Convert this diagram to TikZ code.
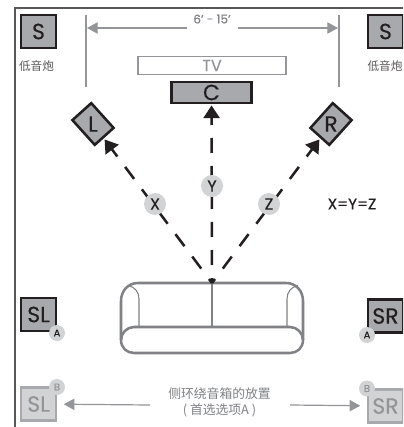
\documentclass[tikz,border=0pt]{standalone}
\usepackage{fontspec}
\setmainfont{Poppins}[FakeBold=0.25]
\newfontfamily\cjk{Noto Sans CJK SC}
\usetikzlibrary{arrows.meta}
\definecolor{spk}{HTML}{A7A9AC}
\definecolor{ink}{HTML}{231F20}
\definecolor{pale}{HTML}{D1D3D4}
\definecolor{mid}{HTML}{939598}
\definecolor{sofa}{HTML}{808285}
\tikzset{
 spkbox/.style={draw=ink,fill=spk,line width=1.9pt,text=ink,inner sep=0pt,font=\fontsize{16.5}{16.5}\selectfont,minimum width=26pt,minimum height=25pt},
 fadebox/.style={draw=spk,fill=pale,line width=1.9pt,text=mid,inner sep=0pt,font=\fontsize{16.5}{16.5}\selectfont,minimum width=26pt,minimum height=25pt},
 badge/.style={circle,fill=pale,text=ink,inner sep=0pt,minimum size=12pt,font=\fontsize{7.5}{8}\selectfont},
 fadebadge/.style={badge,text=mid},
 distbadge/.style={circle,fill=pale,text=ink,inner sep=0pt,minimum size=16.5pt,font=\fontsize{12}{12}\selectfont},
 dimline/.style={draw=mid,line width=.9pt},
 dimarrow/.style={dimline,-{Triangle[length=8pt,width=8.5pt]}},
 distarrow/.style={draw=ink,line width=1.9pt,dash pattern=on 11.25pt off 9.75pt,dash phase=7.5pt,-{Triangle[length=9.5pt,width=12pt]},shorten >=1pt},
 sofaline/.style={draw=sofa,line width=1.9pt},
 cjklabel/.style={text=ink!75,font=\cjk\fontsize{8.7}{10}\selectfont,inner sep=0pt},
 caption/.style={text=sofa,font=\cjk\fontsize{9.6}{12}\selectfont,inner sep=0pt,align=center}
}
\begin{document}
\begin{tikzpicture}[x=.75pt,y=-.75pt]
\useasboundingbox (0,0) rectangle (403,427);
\clip (0,0) rectangle (403,427);
\fill[white] (0,0) rectangle (403,427);
% frame
\draw[draw=ink!75,line width=1.1pt] (15,427) -- (15,8) -- (403,8);
% dimension
\coordinate (dl1) at (86,15); \coordinate (dl2) at (86,87);
\coordinate (dr1) at (339,15); \coordinate (dr2) at (339,87);
\coordinate (dla) at (187,28); \coordinate (dlb) at (87,28);
\coordinate (dra) at (238,28); \coordinate (drb) at (338,28);
\draw[dimline] (dl1) -- (dl2);
\draw[dimline] (dr1) -- (dr2);
\draw[dimarrow] (dla) -- (dlb);
\draw[dimarrow] (dra) -- (drb);
\node[text=sofa,font=\fontsize{9}{9}\selectfont,inner sep=0pt] (dim) at (212,19) {6' - 15'};
% TV and centre
\node[draw=mid,fill=white,line width=.9pt,text=mid,inner sep=0pt,minimum width=111pt,minimum height=13.5pt,font=\fontsize{12}{12}\selectfont] (tv) at (212,65.5) {TV};
\node[spkbox,minimum width=60pt,minimum height=15.5pt] (C) at (211.5,92.5) {C};
% subwoofers
\node[spkbox] (SA) at (38.5,31.5) {S};
\node[spkbox] (SB) at (385.5,31.5) {S};
\node[cjklabel] (SAt) at (36.5,66) {低音炮};
\node[cjklabel] (SBt) at (385,66) {低音炮};
% front speakers
\node[spkbox,minimum width=25pt,minimum height=19pt,rotate=-48] (L) at (93,124) {};
\node[spkbox,minimum width=25pt,minimum height=19pt,rotate=48] (R) at (331,124) {};
\node[text=ink,inner sep=0pt,font=\fontsize{16.5}{16.5}\selectfont] (Lt) at (93,124) {L};
\node[text=ink,inner sep=0pt,font=\fontsize{16.5}{16.5}\selectfont] (Rt) at (331,124) {R};
% sofa
\draw[sofaline,rounded corners=0pt] (138,283) -- (286,283)
  .. controls (296,283) and (303,291) .. (303,301)
  -- (303,340) .. controls (303,348) and (297,353) .. (290,353)
  -- (134,353) .. controls (127,353) and (121,348) .. (121,340)
  -- (121,301) .. controls (121,291) and (128,283) .. (138,283) -- cycle;
\draw[sofaline] (121,340) .. controls (121,333) and (127,327) .. (134,327) -- (290,327)
  .. controls (297,327) and (303,333) .. (303,340);
\draw[draw=sofa,line width=.8pt] (139,327) -- (139,299) .. controls (139,292) and (135,287) .. (128,285.5);
\draw[draw=sofa,line width=.8pt] (287,327) -- (287,299) .. controls (287,292) and (291,287) .. (298,285.5);
\coordinate (v) at (212,283);
\coordinate (seat) at (212,327);
\draw[sofaline] (v) -- (seat);
% distance arrows
\draw[distarrow] (v) -- (L);
\draw[distarrow] (v) -- (C);
\draw[distarrow] (v) -- (R);
\node[distbadge] (X) at (155,204) {X};
\node[distbadge] (Y) at (212,186) {Y};
\node[distbadge] (Z) at (269,204) {Z};
\node[text=ink,inner sep=0pt,font=\fontsize{11.4}{11.4}\selectfont] (eq) at (352,204) {X=Y=Z};
% surrounds
\node[spkbox] (SL) at (38.5,314.5) {SL};
\node[spkbox] (SR) at (385.5,316) {SR};
\node[badge] (SLa) at (57,333) {A};
\node[badge] (SRa) at (367,335) {A};
\node[fadebox] (SLb) at (38.5,404) {SL};
\node[fadebox] (SRb) at (385.5,406) {SR};
\node[fadebadge] (SLc) at (57,387) {B};
\node[fadebadge] (SRc) at (367,388.5) {B};
% caption
\node[caption] (cap) at (219.5,402) {侧环绕音箱的放置\\( 首选选项A )};
\coordinate (al) at (150,405); \coordinate (ar) at (290,405);
\draw[dimarrow,shorten >=5pt] (al) -- (SLb);
\draw[dimarrow,shorten >=5pt] (ar) -- (SRb);
\end{tikzpicture}
\end{document}
